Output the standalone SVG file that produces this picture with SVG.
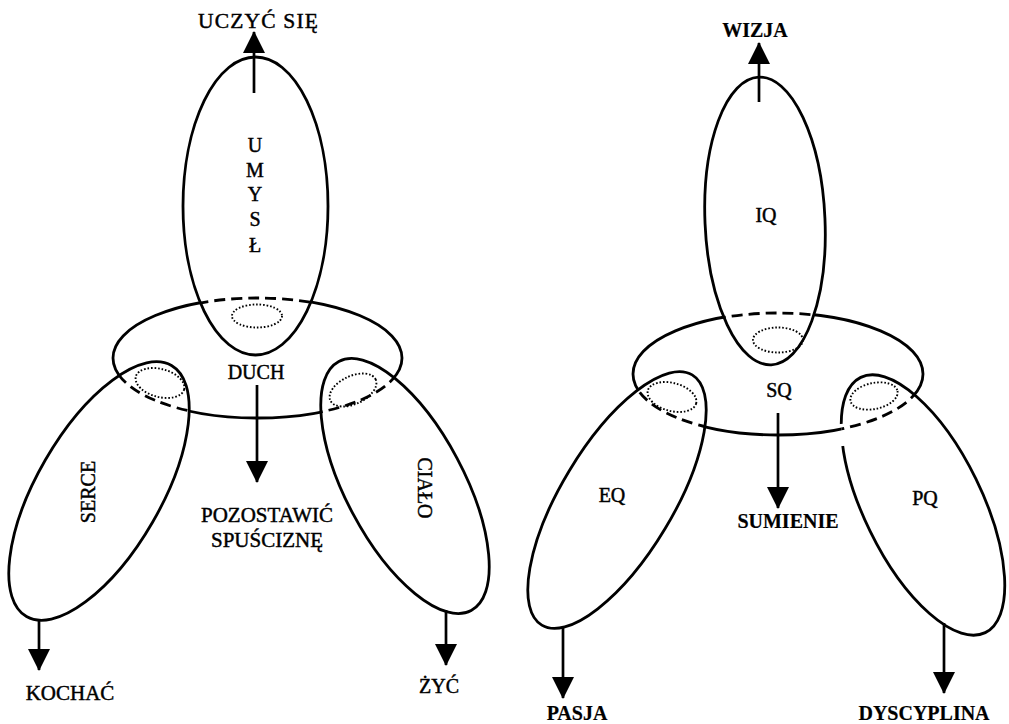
<svg xmlns="http://www.w3.org/2000/svg" width="1009" height="724" viewBox="0 0 1009 724">
  <style>
    .o{fill:none;stroke:#000;stroke-width:2.8}
    .d{fill:none;stroke:#000;stroke-width:2.8;stroke-dasharray:11 6}
    .p{fill:none;stroke:#000;stroke-width:1.9;stroke-dasharray:1.6 1.9}
    .c{fill:none;stroke:#000;stroke-width:2.7}
    text{font-family:"Liberation Serif","Times New Roman",serif;font-size:20px;fill:#000;stroke:#000;stroke-width:0.45;text-anchor:middle}
    .b{font-weight:bold;stroke-width:0.2}
  </style>
  <defs>
    <!-- outlines shared by the drawing and by the masks -->
    <ellipse id="e-umysl" cx="255.5" cy="206" rx="72.5" ry="149"/>
    <ellipse id="e-duch" cx="257.5" cy="358" rx="144.5" ry="60"/>
    <ellipse id="e-serce" cx="99" cy="491" rx="62" ry="145" transform="rotate(30 99 491)"/>
    <ellipse id="e-cialo" cx="405" cy="486" rx="59" ry="141" transform="rotate(-28 405 486)"/>
    <ellipse id="e-iq" cx="765" cy="221" rx="60" ry="144" transform="rotate(-2.5 765 221)"/>
    <ellipse id="e-sq" cx="778" cy="374" rx="145" ry="61"/>
    <ellipse id="e-eq" cx="617" cy="500" rx="56" ry="146" transform="rotate(31 617 500)"/>
    <ellipse id="e-pq" cx="923" cy="505" rx="59" ry="142" transform="rotate(-26 923 505)"/>

    <!-- ring visible outside the front ellipses, dashed behind them -->
    <mask id="m-duch-front" maskUnits="userSpaceOnUse" x="0" y="0" width="1009" height="724">
      <rect width="1009" height="724" fill="#fff"/>
      <use href="#e-umysl" fill="#000"/>
      <use href="#e-serce" fill="#000"/>
      <use href="#e-cialo" fill="#000"/>
    </mask>
    <mask id="m-duch-back" maskUnits="userSpaceOnUse" x="0" y="0" width="1009" height="724">
      <rect width="1009" height="724" fill="#000"/>
      <use href="#e-umysl" fill="#fff"/>
      <use href="#e-serce" fill="#fff"/>
      <use href="#e-cialo" fill="#fff"/>
    </mask>
    <mask id="m-sq-front" maskUnits="userSpaceOnUse" x="0" y="0" width="1009" height="724">
      <rect width="1009" height="724" fill="#fff"/>
      <use href="#e-iq" fill="#000"/>
      <use href="#e-eq" fill="#000"/>
      <use href="#e-pq" fill="#000"/>
    </mask>
    <mask id="m-sq-back" maskUnits="userSpaceOnUse" x="0" y="0" width="1009" height="724">
      <rect width="1009" height="724" fill="#000"/>
      <use href="#e-iq" fill="#fff"/>
      <use href="#e-eq" fill="#fff"/>
      <use href="#e-pq" fill="#fff"/>
    </mask>

    <marker id="ah" markerUnits="userSpaceOnUse" markerWidth="22" markerHeight="22" viewBox="0 0 22 22" refX="21" refY="11" orient="auto">
      <path d="M0,0 L22,11 L0,22 z" fill="#000"/>
    </marker>
  </defs>

  <!-- left figure -->
  <g id="umysl">
    <use href="#e-umysl" class="o"/>
    <text x="255" y="152">U</text>
    <text x="255" y="177">M</text>
    <text x="255" y="201">Y</text>
    <text x="255" y="226">S</text>
    <text x="255" y="252">Ł</text>
  </g>
  <g id="serce">
    <use href="#e-serce" class="o"/>
    <text transform="translate(95 492) rotate(-90)">SERCE</text>
  </g>
  <g id="cialo">
    <use href="#e-cialo" class="o"/>
    <text transform="translate(418 488) rotate(90)">CIAŁO</text>
  </g>
  <g id="duch">
    <use href="#e-duch" class="o" mask="url(#m-duch-front)"/>
    <use href="#e-duch" class="d" mask="url(#m-duch-back)"/>
    <ellipse class="p" cx="257" cy="316" rx="25" ry="11.5"/>
    <ellipse class="p" cx="160" cy="383" rx="25" ry="14" transform="rotate(15 160 383)"/>
    <ellipse class="p" cx="353" cy="390" rx="25" ry="14" transform="rotate(-25 353 390)"/>
    <text x="256" y="379">DUCH</text>
  </g>

  <!-- right figure -->
  <g id="iq">
    <use href="#e-iq" class="o"/>
    <text x="766" y="222">IQ</text>
  </g>
  <g id="eq">
    <use href="#e-eq" class="o"/>
    <text x="612" y="502">EQ</text>
  </g>
  <g id="pq">
    <use href="#e-pq" class="o"/>
    <!-- break in the outline where the ring passes -->
    <line x1="840.5" y1="424" x2="843" y2="446" stroke="#fff" stroke-width="6"/>
    <text x="925" y="505">PQ</text>
  </g>
  <g id="sq">
    <use href="#e-sq" class="o" mask="url(#m-sq-front)"/>
    <use href="#e-sq" class="d" mask="url(#m-sq-back)"/>
    <ellipse class="p" cx="778" cy="340" rx="25" ry="12.5"/>
    <ellipse class="p" cx="672" cy="397" rx="25" ry="14" transform="rotate(15 672 397)"/>
    <ellipse class="p" cx="874" cy="396" rx="24" ry="13" transform="rotate(-12 874 396)"/>
    <text x="779" y="397">SQ</text>
  </g>

  <!-- connectors -->
  <g id="connectors">
    <line class="c" x1="254" y1="93" x2="254" y2="32" marker-end="url(#ah)"/>
    <line class="c" x1="257" y1="385" x2="257" y2="482" marker-end="url(#ah)"/>
    <line class="c" x1="39" y1="620" x2="39" y2="670" marker-end="url(#ah)"/>
    <line class="c" x1="446" y1="610" x2="446" y2="665" marker-end="url(#ah)"/>
    <line class="c" x1="759" y1="102" x2="759" y2="43" marker-end="url(#ah)"/>
    <line class="c" x1="778" y1="413" x2="778" y2="508" marker-end="url(#ah)"/>
    <line class="c" x1="563" y1="628" x2="563" y2="698" marker-end="url(#ah)"/>
    <line class="c" x1="944" y1="623" x2="944" y2="693" marker-end="url(#ah)"/>
  </g>

  <!-- outcome labels -->
  <g id="labels">
    <text x="258" y="28" style="font-size:21.5px" textLength="120" lengthAdjust="spacing">UCZYĆ SIĘ</text>
    <text x="267" y="522" style="font-size:21px">POZOSTAWIĆ</text>
    <text x="267" y="547" style="font-size:21px">SPUŚCIZNĘ</text>
    <text x="70" y="700" style="font-size:21px">KOCHAĆ</text>
    <text x="439" y="693">ŻYĆ</text>
    <text class="b" x="755" y="37">WIZJA</text>
    <text class="b" x="788" y="528">SUMIENIE</text>
    <text class="b" x="577" y="720">PASJA</text>
    <text class="b" x="924" y="720">DYSCYPLINA</text>
  </g>
</svg>
